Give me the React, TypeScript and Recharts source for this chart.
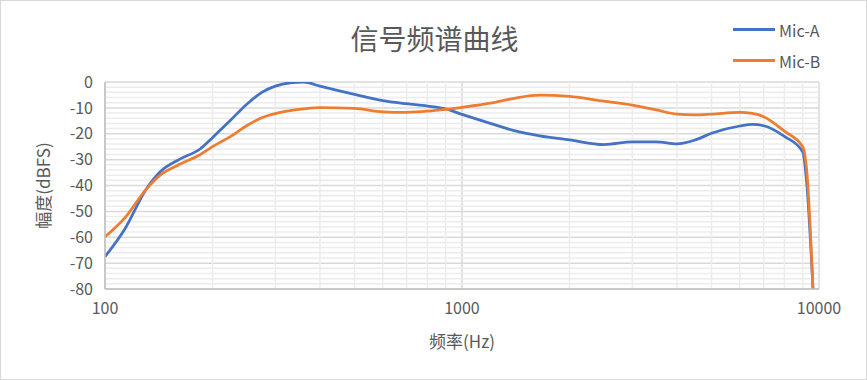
import React from 'react';
import {
  LineChart,
  Line,
  XAxis,
  YAxis,
  CartesianGrid,
  ReferenceLine,
} from 'recharts';

const FREQS = [
  100, 114, 130, 143, 162, 185, 200, 225, 250, 275, 300, 330, 360, 400, 500,
  600, 700, 800, 900, 1000, 1200, 1400, 1650, 2000, 2500, 3000, 3500, 4000,
  4500, 5000, 6000, 6500, 7000, 8000, 9000, 9250, 9620,
];
const MIC_A = [
  -67.5, -56.5, -41.7, -34.6, -29.8, -25.8, -21.5, -14.7, -8.5, -4, -1.6,
  -0.3, 0, -1.6, -4.8, -7.2, -8.4, -9.3, -10.4, -12.5, -16, -18.8, -20.8,
  -22.4, -24.2, -23.1, -23.1, -23.9, -22.4, -19.8, -17, -16.4, -16.9, -21,
  -27, -40, -80,
];
const MIC_B = [
  -59.8, -52.3, -41.7, -35.9, -31.8, -28, -25, -21, -16.8, -13.8, -12.2,
  -11.1, -10.4, -9.9, -10.2, -11.5, -11.7, -11.3, -10.6, -9.8, -8.2, -6.3,
  -5.1, -5.6, -7.4, -8.9, -10.8, -12.4, -12.7, -12.4, -11.7, -12.1, -13.4,
  -19, -25, -35, -80,
];
const X_TICKS = [100, 1000, 10000];
const Y_TICKS = [-80, -70, -60, -50, -40, -30, -20, -10, 0];
const X_MINOR = [200, 300, 400, 500, 600, 700, 800, 900, 2000, 3000, 4000, 5000, 6000, 7000, 8000, 9000];
const Y_MINOR = Array.from({ length: 41 }, (_, i) => -80 + i * 2).filter((v) => v % 10 !== 0);

const data = FREQS.map((f, i) => ({ f, a: MIC_A[i], b: MIC_B[i] }));

const FONT = '"Noto Sans CJK SC", "Noto Sans", sans-serif';
const TEXT = '#595959';

const YLabel = (props: any) => {
  const vb = props.viewBox || { x: 0, y: 0, width: 0, height: 0 };
  const cx = 42;
  const cy = vb.y + vb.height / 2;
  return (
    <text x={cx} y={cy} transform={`rotate(-90 ${cx} ${cy})`} textAnchor="middle"
      dominantBaseline="central" fill={TEXT} fontSize={17} fontFamily={FONT}>
      幅度(dBFS)
    </text>
  );
};

const XLabel = (props: any) => {
  const vb = props.viewBox || { x: 0, y: 0, width: 0, height: 0 };
  return (
    <text x={vb.x + vb.width / 2} y={340} textAnchor="middle" dominantBaseline="central"
      fill={TEXT} fontSize={17} fontFamily={FONT}>
      频率(Hz)
    </text>
  );
};

const SERIES = [
  { name: 'Mic-A', color: '#4472C4' },
  { name: 'Mic-B', color: '#ED7D31' },
];

export default function App() {
  return (
    <div
      style={{
        position: 'absolute',
        left: 0,
        top: 0,
        width: 867,
        height: 380,
        boxSizing: 'border-box',
        border: '1px solid #d9d9d9',
        background: '#fff',
      }}
    >
      <div
        style={{
          position: 'absolute',
          left: 0,
          width: 867,
          top: 18,
          textAlign: 'center',
          fontFamily: FONT,
          fontSize: 28,
          color: TEXT,
          lineHeight: '38px',
        }}
      >
        信号频谱曲线
      </div>
      <div style={{ position: 'absolute', left: -1, top: -1 }}>
        <LineChart width={867} height={380} data={data} margin={{ top: 82, right: 48, bottom: 61, left: 0 }}>
          <CartesianGrid stroke="#d9d9d9" strokeWidth={1.5} />
          {X_MINOR.map((v) => (
            <ReferenceLine key={`x${v}`} x={v} stroke="#ececec" strokeWidth={1.5} />
          ))}
          {Y_MINOR.map((v) => (
            <ReferenceLine key={`y${v}`} y={v} stroke="#ececec" strokeWidth={1.5} />
          ))}
          <XAxis
            dataKey="f"
            type="number"
            scale="log"
            domain={[100, 10000]}
            ticks={X_TICKS}
            interval={0}
            allowDataOverflow
            height={30}
            axisLine={{ stroke: '#bfbfbf', strokeWidth: 1.5 }}
            tickLine={false}
            tickMargin={8}
            tick={{ fill: TEXT, fontSize: 16, fontFamily: FONT }}
            label={<XLabel />}
          />
          <YAxis
            type="number"
            domain={[-80, 0]}
            ticks={Y_TICKS}
            interval={0}
            allowDataOverflow
            width={105}
            axisLine={{ stroke: '#bfbfbf', strokeWidth: 1.5 }}
            tickLine={false}
            tickMargin={6}
            tick={{ fill: TEXT, fontSize: 16, fontFamily: FONT }}
            label={<YLabel />}
          />
          <Line type="monotone" dataKey="a" name="Mic-A" stroke="#4472C4" strokeWidth={2.75} dot={false} isAnimationActive={false} />
          <Line type="monotone" dataKey="b" name="Mic-B" stroke="#ED7D31" strokeWidth={2.75} dot={false} isAnimationActive={false} />
        </LineChart>
      </div>
      <div style={{ position: 'absolute', left: 732, top: 13, fontFamily: FONT, fontSize: 16, color: TEXT }}>
        {SERIES.map((s) => (
          <div key={s.name} style={{ display: 'flex', alignItems: 'center', height: 31 }}>
            <span style={{ display: 'inline-block', width: 42, height: 3, background: s.color, marginRight: 4 }} />
            <span>{s.name}</span>
          </div>
        ))}
      </div>
    </div>
  );
}
